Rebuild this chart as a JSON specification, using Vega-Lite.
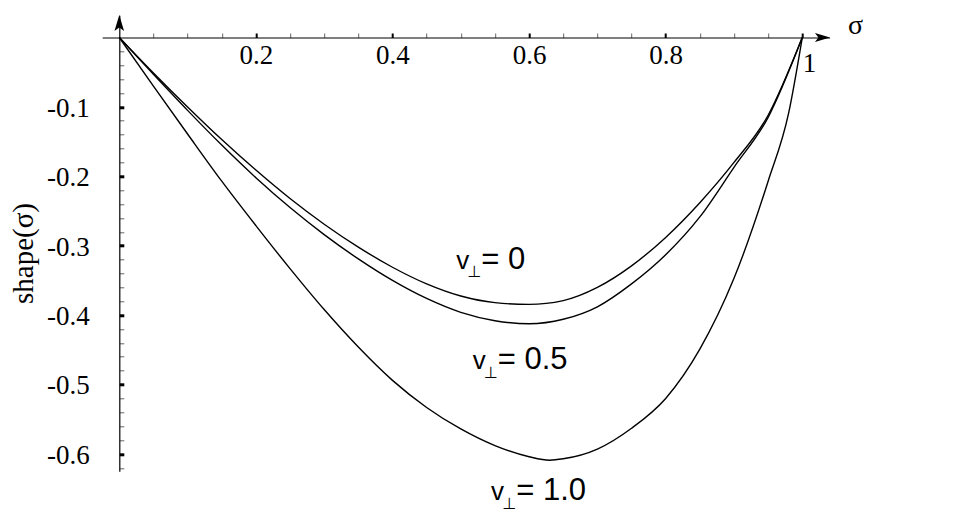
{
  "$schema": "https://vega.github.io/schema/vega-lite/v6.json",
  "width": 727.4,
  "height": 456,
  "autosize": {"type": "none"},
  "padding": {"left": 102.2, "top": 15.3, "right": 147.4, "bottom": 43.7},
  "background": "white",
  "config": {"view": {"stroke": null}},
  "datasets": {
    "curves": [
      {"v": "0", "s": 0, "shape": 0},
      {"v": "0", "s": 0.05, "shape": -0.051},
      {"v": "0", "s": 0.1, "shape": -0.1},
      {"v": "0", "s": 0.15, "shape": -0.147},
      {"v": "0", "s": 0.2, "shape": -0.191},
      {"v": "0", "s": 0.25, "shape": -0.232},
      {"v": "0", "s": 0.3, "shape": -0.269},
      {"v": "0", "s": 0.35, "shape": -0.302},
      {"v": "0", "s": 0.4, "shape": -0.331},
      {"v": "0", "s": 0.45, "shape": -0.355},
      {"v": "0", "s": 0.5, "shape": -0.3725},
      {"v": "0", "s": 0.55, "shape": -0.382},
      {"v": "0", "s": 0.6, "shape": -0.3845},
      {"v": "0", "s": 0.65, "shape": -0.379},
      {"v": "0", "s": 0.7, "shape": -0.36},
      {"v": "0", "s": 0.75, "shape": -0.329},
      {"v": "0", "s": 0.8, "shape": -0.288},
      {"v": "0", "s": 0.85, "shape": -0.238},
      {"v": "0", "s": 0.9, "shape": -0.18},
      {"v": "0", "s": 0.95, "shape": -0.112},
      {"v": "0", "s": 1, "shape": 0},
      {"v": "0.5", "s": 0, "shape": 0},
      {"v": "0.5", "s": 0.05, "shape": -0.053},
      {"v": "0.5", "s": 0.1, "shape": -0.105},
      {"v": "0.5", "s": 0.15, "shape": -0.155},
      {"v": "0.5", "s": 0.2, "shape": -0.202},
      {"v": "0.5", "s": 0.25, "shape": -0.245},
      {"v": "0.5", "s": 0.3, "shape": -0.284},
      {"v": "0.5", "s": 0.35, "shape": -0.319},
      {"v": "0.5", "s": 0.4, "shape": -0.35},
      {"v": "0.5", "s": 0.45, "shape": -0.376},
      {"v": "0.5", "s": 0.5, "shape": -0.396},
      {"v": "0.5", "s": 0.55, "shape": -0.408},
      {"v": "0.5", "s": 0.6, "shape": -0.4125},
      {"v": "0.5", "s": 0.65, "shape": -0.406},
      {"v": "0.5", "s": 0.7, "shape": -0.388},
      {"v": "0.5", "s": 0.75, "shape": -0.355},
      {"v": "0.5", "s": 0.8, "shape": -0.313},
      {"v": "0.5", "s": 0.85, "shape": -0.2585},
      {"v": "0.5", "s": 0.9, "shape": -0.187},
      {"v": "0.5", "s": 0.95, "shape": -0.115},
      {"v": "0.5", "s": 1, "shape": 0},
      {"v": "1.0", "s": 0, "shape": 0},
      {"v": "1.0", "s": 0.05, "shape": -0.07},
      {"v": "1.0", "s": 0.1, "shape": -0.139},
      {"v": "1.0", "s": 0.15, "shape": -0.207},
      {"v": "1.0", "s": 0.2, "shape": -0.271},
      {"v": "1.0", "s": 0.25, "shape": -0.333},
      {"v": "1.0", "s": 0.3, "shape": -0.392},
      {"v": "1.0", "s": 0.35, "shape": -0.446},
      {"v": "1.0", "s": 0.4, "shape": -0.494},
      {"v": "1.0", "s": 0.45, "shape": -0.533},
      {"v": "1.0", "s": 0.5, "shape": -0.564},
      {"v": "1.0", "s": 0.55, "shape": -0.588},
      {"v": "1.0", "s": 0.6, "shape": -0.604},
      {"v": "1.0", "s": 0.63, "shape": -0.609},
      {"v": "1.0", "s": 0.65, "shape": -0.607},
      {"v": "1.0", "s": 0.7, "shape": -0.593},
      {"v": "1.0", "s": 0.75, "shape": -0.563},
      {"v": "1.0", "s": 0.8, "shape": -0.52},
      {"v": "1.0", "s": 0.85, "shape": -0.449},
      {"v": "1.0", "s": 0.9, "shape": -0.347},
      {"v": "1.0", "s": 0.95, "shape": -0.207},
      {"v": "1.0", "s": 0.98, "shape": -0.109},
      {"v": "1.0", "s": 1, "shape": 0}
    ],
    "labels": [
      {"s": 0.4933, "shape": -0.3329, "tail": "= 0"},
      {"s": 0.5174, "shape": -0.4777, "tail": "= 0.5"},
      {"s": 0.5444, "shape": -0.6664, "tail": "= 1.0"}
    ],
    "arrowUp": [{"s": 0, "shape": 0.0209}],
    "arrowRight": [{"s": 1.0296, "shape": 0}]
  },
  "encoding": {
    "x": {
      "field": "s",
      "type": "quantitative",
      "scale": {"domain": [-0.025, 1.04], "nice": false, "zero": false},
      "axis": {
        "orient": "top",
        "offset": -22.2,
        "title": "σ",
        "grid": false,
        "values": [0.05, 0.1, 0.15, 0.2, 0.25, 0.3, 0.35, 0.4, 0.45, 0.5, 0.55, 0.6, 0.65, 0.7, 0.75, 0.8, 0.85, 0.9, 0.95, 1],
        "domainColor": "black",
        "domainWidth": 1.2,
        "tickSize": 4.5,
        "tickColor": {"condition": {"test": "abs(datum.value*5-round(datum.value*5))<1e-6", "value": "black"}, "value": "#666"},
        "tickWidth": {"condition": {"test": "abs(datum.value*5-round(datum.value*5))<1e-6", "value": 2}, "value": 1},
        "labelExpr": "abs(datum.value*5-round(datum.value*5))<1e-6 ? (datum.value==1 ? '\u00a01' : format(datum.value,'.1f')) : ''",
        "labelFont": "Liberation Serif",
        "labelFontSize": 27,
        "labelColor": "black",
        "labelBaseline": {"condition": {"test": "datum.value==1", "value": "middle"}, "value": "alphabetic"},
        "labelAlign": {"condition": {"test": "datum.value==1", "value": "left"}, "value": "center"},
        "labelPadding": -30.3,
        "labelOverlap": false,
        "labelBound": false,
        "labelFlush": false,
        "titleFont": "Liberation Serif",
        "titleFontSize": 28,
        "titleFontWeight": "normal",
        "titleColor": "black",
        "titleX": 752.8,
        "titleY": -4.2,
        "titleAlign": "center",
        "titleBaseline": "alphabetic",
        "titleAngle": 0
      }
    },
    "y": {
      "field": "shape",
      "type": "quantitative",
      "scale": {"domain": [-0.625, 0.032], "nice": false, "zero": false},
      "axis": {
        "orient": "left",
        "offset": -17.1,
        "title": "shape(σ)",
        "grid": false,
        "values": [-0.02, -0.04, -0.06, -0.08, -0.1, -0.12, -0.14, -0.16, -0.18, -0.2, -0.22, -0.24, -0.26, -0.28, -0.3, -0.32, -0.34, -0.36, -0.38, -0.4, -0.42, -0.44, -0.46, -0.48, -0.5, -0.52, -0.54, -0.56, -0.58, -0.6, -0.62],
        "domainColor": "black",
        "domainWidth": 1.2,
        "tickSize": -4.5,
        "tickColor": {"condition": {"test": "abs(datum.value*10-round(datum.value*10))<1e-6", "value": "black"}, "value": "#666"},
        "tickWidth": {"condition": {"test": "abs(datum.value*10-round(datum.value*10))<1e-6", "value": 3}, "value": 1},
        "labelExpr": "abs(datum.value*10-round(datum.value*10))<1e-6 ? '-' + format(abs(datum.value),'.1f') : ''",
        "labelFont": "Liberation Serif",
        "labelFontSize": 27,
        "labelColor": "black",
        "labelBaseline": "alphabetic",
        "labelAlign": "right",
        "labelPadding": 34.5,
        "labelOffset": 9.3,
        "labelOverlap": false,
        "labelBound": false,
        "labelFlush": false,
        "titleFont": "Liberation Serif",
        "titleFontSize": 29,
        "titleFontWeight": "normal",
        "titleColor": "black",
        "titleX": -86.3,
        "titleY": 237.7,
        "titleAlign": "center",
        "titleBaseline": "alphabetic",
        "titleAngle": 270
      }
    }
  },
  "layer": [
    {
      "data": {"name": "curves"},
      "mark": {"type": "line", "color": "black", "strokeWidth": 1.4, "interpolate": "monotone"},
      "encoding": {
        "detail": {"field": "v", "type": "nominal"}
      }
    },
    {
      "data": {"name": "arrowUp"},
      "mark": {"type": "point", "shape": "M0,-1L0.6,1L0,0.55L-0.6,1Z", "size": 256, "filled": true, "color": "black", "opacity": 1, "strokeWidth": 0}
    },
    {
      "data": {"name": "arrowRight"},
      "mark": {"type": "point", "shape": "M1,0L-1,0.6L-0.55,0L-1,-0.6Z", "size": 225, "filled": true, "color": "black", "opacity": 1, "strokeWidth": 0}
    },
    {
      "data": {"name": "labels"},
      "mark": {"type": "text", "text": "v", "align": "left", "baseline": "alphabetic", "font": "Liberation Sans", "fontSize": 26, "fill": "black"}
    },
    {
      "data": {"name": "labels"},
      "mark": {"type": "text", "text": "⊥", "align": "left", "baseline": "alphabetic", "font": "DejaVu Sans", "fontSize": 16, "dx": 11.3, "dy": 8.7, "fill": "black"}
    },
    {
      "data": {"name": "labels"},
      "mark": {"type": "text", "align": "left", "baseline": "alphabetic", "font": "Liberation Sans", "fontSize": 31, "dx": 25.1, "fill": "black"},
      "encoding": {
        "text": {"field": "tail", "type": "nominal"}
      }
    }
  ]
}
